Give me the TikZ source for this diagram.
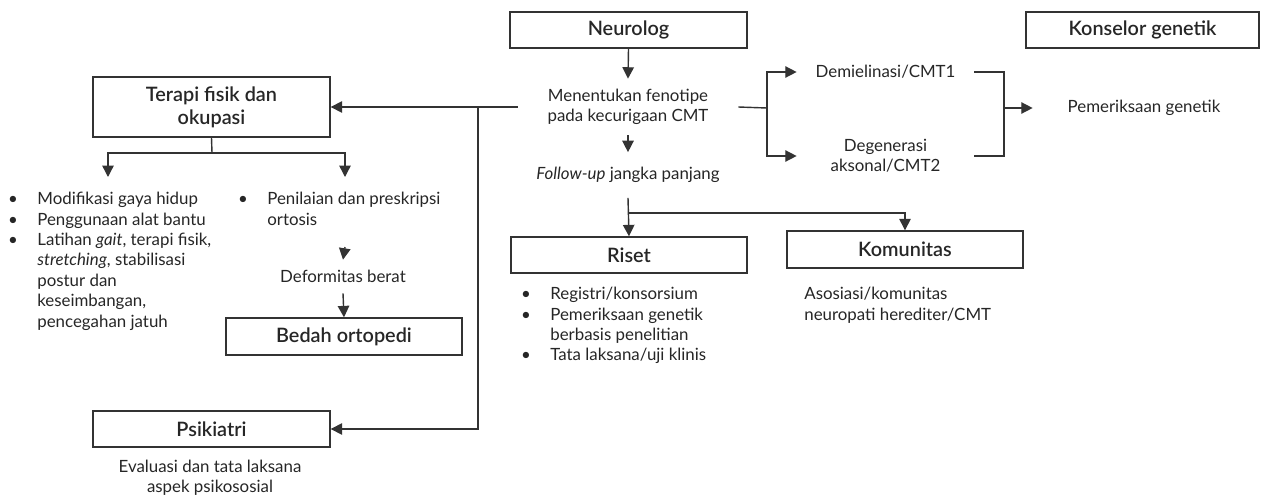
\documentclass[tikz,border=0pt]{standalone}
\usepackage{fontspec}
\setmainfont{Lato}[BoldFont={Lato Semibold}]
\usetikzlibrary{arrows.meta}
\definecolor{ln}{HTML}{333333}
\definecolor{tx}{HTML}{262626}
\tikzset{
  box/.style={draw=ln,line width=0.8pt,rectangle,inner sep=0pt,align=center,font=\fontsize{11.3}{13}\selectfont\bfseries,text=tx},
  txt/.style={inner sep=0pt,align=center,font=\fontsize{9.6}{11.6}\selectfont,text=tx},
  ltxt/.style={inner sep=0pt,align=left,font=\fontsize{9.6}{11.6}\selectfont,text=tx,anchor=north west},
  con/.style={draw=ln,line width=0.8pt},
  arr/.style={con,-{Triangle[length=6.5pt,width=6.5pt]}}
}
\newcommand{\bl}{\makebox[0pt][r]{\textbullet\hspace{11pt}}}
\begin{document}
\begin{tikzpicture}[x=0.02cm,y=-0.02cm]
\useasboundingbox (0,0) rectangle (1261,497);
% boxes
\node[box,minimum width=4.74cm,minimum height=0.72cm] (neuro) at (628.5,30) {Neurolog};
\node[box,minimum width=4.66cm,minimum height=0.72cm] (kons) at (1142.5,30) {Konselor genetik};
\node[box,minimum width=4.74cm,minimum height=1.2cm] (terapi) at (211.5,107) {Terapi fisik dan\\okupasi};
\node[box,minimum width=4.72cm,minimum height=0.74cm] (bedah) at (344,336.5) {Bedah ortopedi};
\node[box,minimum width=4.74cm,minimum height=0.72cm] (psik) at (211.5,429) {Psikiatri};
\node[box,minimum width=4.72cm,minimum height=0.72cm] (riset) at (629,255) {Riset};
\node[box,minimum width=4.72cm,minimum height=0.74cm] (komun) at (905,249.5) {Komunitas};
% text nodes
\node[txt,minimum width=4.4cm,minimum height=1.12cm] (ment) at (628,107) {Menentukan fenotipe\\pada kecurigaan CMT};
\node[txt,minimum width=4.4cm,minimum height=0.9cm] (follow) at (628,175) {\textit{Follow-up} jangka panjang};
\node[txt,minimum width=3.54cm] (demiel) at (885.5,72) {Demielinasi/CMT1};
\node[txt,minimum width=3.54cm] (degen) at (885.5,156) {Degenerasi\\aksonal/CMT2};
\node[txt,minimum width=4.44cm] (pemgen) at (1144,108) {Pemeriksaan genetik};
\node[txt,minimum width=3cm,minimum height=0.66cm] (deform) at (343,276.5) {Deformitas berat};
\node[ltxt] (left) at (37,192) {\bl Modifikasi gaya hidup\\\bl Penggunaan alat bantu\\\bl Latihan \textit{gait}, terapi fisik,\\\textit{stretching}, stabilisasi\\postur dan\\keseimbangan,\\pencegahan jatuh};
\node[ltxt] (penil) at (267,192) {\bl Penilaian dan preskripsi\\ortosis};
\node[ltxt] (rlist) at (550,287) {\bl Registri/konsorsium\\\bl Pemeriksaan genetik\\berbasis penelitian\\\bl Tata laksana/uji klinis};
\node[ltxt] (asos) at (804,287) {Asosiasi/komunitas\\neuropati herediter/CMT};
\node[txt] (eval) at (210,478) {Evaluasi dan tata laksana\\aspek psikososial};
% coordinates
\coordinate (j1) at (478,108);
\coordinate (j2) at (767,108);
\coordinate (j3) at (1004,108);
\coordinate (j4) at (628,213);
\coordinate (t0) at (212,153);
\coordinate (tl) at (108,177);
\coordinate (tr) at (345,177);
\coordinate (p1) at (345,247);
% connectors
\draw[arr] (neuro.south) -- (ment.north);
\draw[arr] (ment.south) -- (follow.north);
\draw[arr] (ment.west) -- (terapi.east);
\draw[arr] (j1) |- (psik.east);
\draw[con] (ment.east) -- (j2);
\draw[arr] (j2) |- (demiel.west);
\draw[arr] (j2) |- (degen.west);
\draw[con] (demiel.east) -| (j3) |- (degen.east);
\draw[arr] (j3) -- (pemgen.west);
\draw[arr] (follow.south) -- (riset.north);
\draw[arr] (j4) -| (komun.north);
\draw[con] (terapi.south) -- (t0);
\draw[arr] (t0) -| (tl);
\draw[arr] (t0) -| (tr);
\draw[arr] (p1) -- (deform.north);
\draw[arr] (deform.south) -- (bedah.north);
\end{tikzpicture}
\end{document}
